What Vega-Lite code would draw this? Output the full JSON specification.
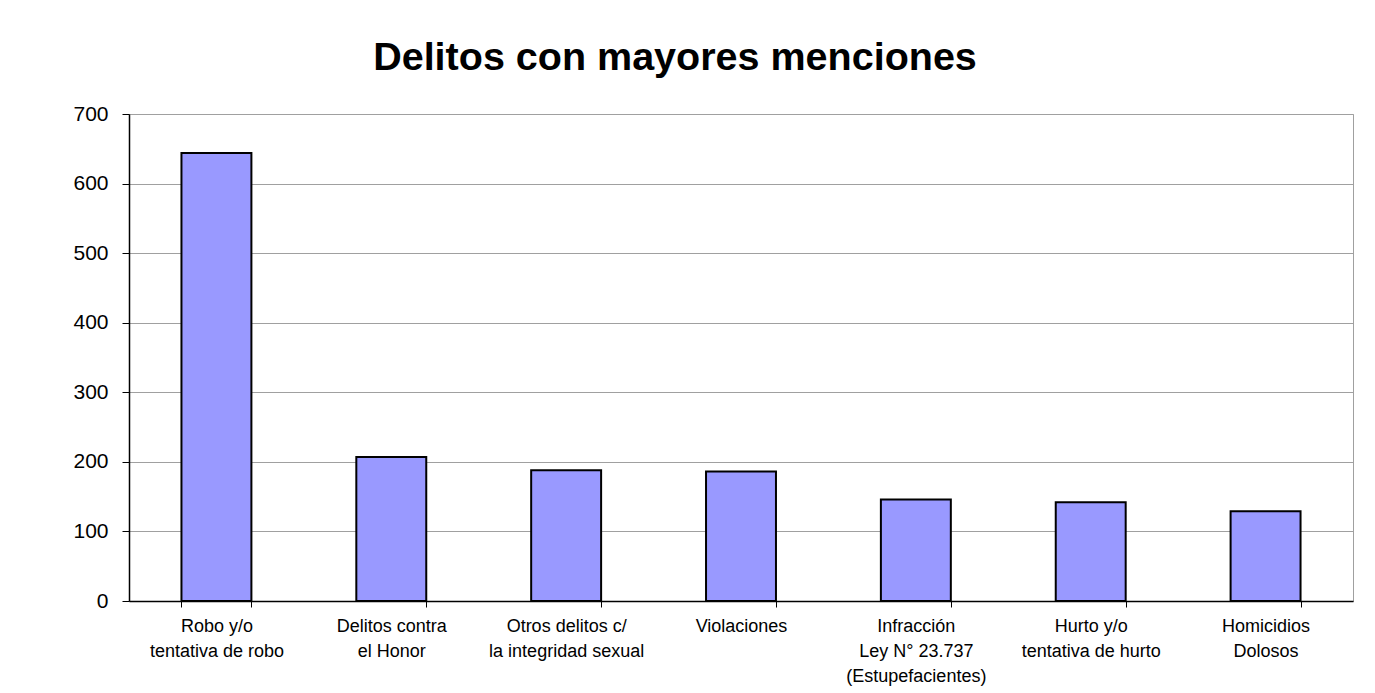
{
  "$schema": "https://vega.github.io/schema/vega-lite/v6.json",
  "width": 1224,
  "height": 487,
  "autosize": {"type": "none"},
  "padding": {"left": 129, "top": 114, "right": 22, "bottom": 92},
  "background": "white",
  "config": {
    "font": "Liberation Sans",
    "view": {"stroke": "#a0a0a0", "strokeWidth": 1}
  },
  "title": {
    "text": "Delitos con mayores menciones",
    "font": "Liberation Sans",
    "fontSize": 39.5,
    "fontWeight": "bold",
    "color": "black",
    "anchor": "middle",
    "frame": "group",
    "baseline": "alphabetic",
    "dx": -66,
    "dy": 48,
    "offset": 42
  },
  "data": {
    "values": [
      {"delito": "Robo y/o|tentativa de robo", "menciones": 644},
      {"delito": "Delitos contra|el Honor", "menciones": 207},
      {"delito": "Otros delitos c/|la integridad sexual", "menciones": 188},
      {"delito": "Violaciones", "menciones": 186},
      {"delito": "Infracción|Ley N° 23.737|(Estupefacientes)", "menciones": 146},
      {"delito": "Hurto y/o|tentativa de hurto", "menciones": 142},
      {"delito": "Homicidios|Dolosos", "menciones": 129}
    ]
  },
  "mark": {"type": "bar", "color": "#9999ff", "stroke": "black", "strokeWidth": 2},
  "encoding": {
    "x": {
      "field": "delito",
      "type": "nominal",
      "sort": null,
      "scale": {"paddingInner": 0.6, "paddingOuter": 0.3},
      "axis": {
        "title": null,
        "labelAngle": 0,
        "labelExpr": "split(datum.label, '|')",
        "labelFont": "Liberation Sans",
        "labelFontSize": 18,
        "labelLineHeight": 25,
        "labelColor": "black",
        "labelPadding": 10,
        "labelBaseline": "top",
        "tickBand": "extent",
        "tickSize": 6,
        "tickColor": "black",
        "domainColor": "black",
        "domainWidth": 1.5,
        "labelLimit": 0
      }
    },
    "y": {
      "field": "menciones",
      "type": "quantitative",
      "scale": {"domain": [0, 700], "nice": false},
      "axis": {
        "title": null,
        "values": [0, 100, 200, 300, 400, 500, 600, 700],
        "grid": true,
        "gridColor": "#a0a0a0",
        "gridWidth": 1,
        "labelFont": "Liberation Sans",
        "labelFontSize": 21,
        "labelColor": "black",
        "labelPadding": 14,
        "tickSize": 7,
        "tickColor": "black",
        "domainColor": "black",
        "domainWidth": 1.5
      }
    }
  }
}
